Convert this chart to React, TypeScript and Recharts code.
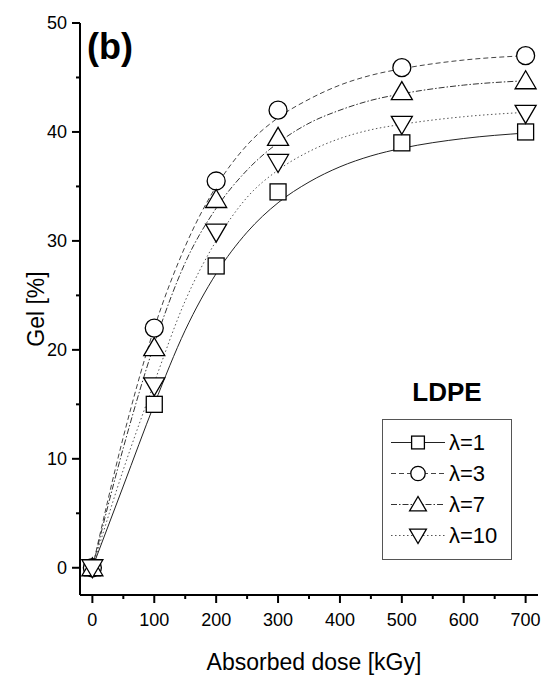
import { ComposedChart, Line, Scatter, XAxis, YAxis, Legend } from 'recharts';

const FONT = '"Liberation Sans", Arial, sans-serif';

// measured points (dose in kGy, gel %)
const doses = [0, 100, 200, 300, 500, 700];
const gelL1 = [0, 15, 27.7, 34.5, 39, 40];
const gelL3 = [0, 22, 35.5, 42, 45.9, 47];
const gelL7 = [0, 20.2, 33.8, 39.5, 43.7, 44.7];
const gelL10 = [0, 16.7, 30.8, 37.2, 40.7, 41.7];

// fitted curves
const fitDoses = [0, 50, 100, 150, 200, 250, 300, 350, 400, 450, 500, 600, 700];
const fitL1 = [0, 7.5, 15, 21.8, 27, 30.8, 33.5, 35.4, 36.8, 37.8, 38.5, 39.4, 39.9];
const fitL3 = [0, 12, 22, 29.5, 35, 38.8, 41.3, 43, 44.3, 45.2, 45.8, 46.6, 47];
const fitL7 = [0, 11, 20.5, 28, 33, 36.5, 39, 40.8, 42, 42.9, 43.5, 44.3, 44.7];
const fitL10 = [0, 9, 17, 24.5, 30, 34, 36.5, 38.2, 39.4, 40.2, 40.7, 41.4, 41.8];

const xTicks = [0, 50, 100, 150, 200, 250, 300, 350, 400, 450, 500, 550, 600, 650, 700];
const yTicks = [0, 5, 10, 15, 20, 25, 30, 35, 40, 45, 50];

const toPoints = (xs: number[], ys: number[]) => xs.map((x, i) => ({ x, y: ys[i] }));

type Kind = 'square' | 'circle' | 'up' | 'down';

const series: { name: string; kind: Kind; marks: number[]; fit: number[]; dash?: string; color: string }[] = [
  { name: 'λ=1', kind: 'square', marks: gelL1, fit: fitL1, color: '#222' },
  { name: 'λ=3', kind: 'circle', marks: gelL3, fit: fitL3, dash: '5 3', color: '#444' },
  { name: 'λ=7', kind: 'up', marks: gelL7, fit: fitL7, dash: '6 2 1.5 2', color: '#333' },
  { name: 'λ=10', kind: 'down', marks: gelL10, fit: fitL10, dash: '1.5 2.5', color: '#555' },
];

const Marker = ({ kind, cx, cy, s = 1 }: { kind: Kind; cx: number; cy: number; s?: number }) => {
  const common = { fill: '#fff', stroke: '#000', strokeWidth: 1.3 };
  if (kind === 'square') {
    const h = 8 * s;
    return <rect x={cx - h} y={cy - h} width={2 * h} height={2 * h} {...common} />;
  }
  if (kind === 'circle') return <circle cx={cx} cy={cy} r={9 * s} {...common} />;
  const w = 10.5 * s;
  if (kind === 'up') {
    return <polygon points={`${cx},${cy - 10 * s} ${cx - w},${cy + 8 * s} ${cx + w},${cy + 8 * s}`} {...common} />;
  }
  return <polygon points={`${cx},${cy + 10 * s} ${cx - w},${cy - 8 * s} ${cx + w},${cy - 8 * s}`} {...common} />;
};

const XTick = ({ x, y, payload }: any) => {
  const y0 = y - 8;
  const major = payload.value % 100 === 0;
  return (
    <g>
      <line x1={x} x2={x} y1={y0} y2={y0 + (major ? 8 : 4)} stroke="#000" strokeWidth={2} />
      {major && (
        <text x={x} y={y0 + 18} dy="0.71em" textAnchor="middle" fontSize={18} fontFamily={FONT} fill="#000">
          {payload.value}
        </text>
      )}
    </g>
  );
};

const YTick = ({ x, y, payload }: any) => {
  const x0 = x + 8;
  const major = payload.value % 10 === 0;
  return (
    <g>
      <line x1={x0} x2={x0 - (major ? 8 : 4)} y1={y} y2={y} stroke="#000" strokeWidth={2} />
      {major && (
        <text x={x0 - 13} y={y} dy="0.355em" textAnchor="end" fontSize={18} fontFamily={FONT} fill="#000">
          {payload.value}
        </text>
      )}
    </g>
  );
};

const renderLegend = () => (
  <div style={{ width: 130, fontFamily: FONT, color: '#000' }}>
    <div style={{ textAlign: 'center', fontWeight: 'bold', fontSize: 26, lineHeight: '30px', marginBottom: 12 }}>LDPE</div>
    <div style={{ border: '1px solid #555', boxSizing: 'border-box', width: 130, padding: '7px 0 8px 0' }}>
      {series.map((s) => (
        <div key={s.name} style={{ display: 'flex', alignItems: 'center', height: 31 }}>
          <svg width={54} height={31} style={{ marginLeft: 8, display: 'block' }}>
            <line x1={0} x2={54} y1={15.5} y2={15.5} stroke={s.color} strokeWidth={1} strokeDasharray={s.dash} />
            <Marker kind={s.kind} cx={27} cy={15.5} s={0.8} />
          </svg>
          <span style={{ fontSize: 22, marginLeft: 4, lineHeight: '31px' }}>{s.name}</span>
        </div>
      ))}
    </div>
  </div>
);

export default function App() {
  return (
    <div style={{ position: 'absolute', left: 0, top: 0, width: 543, height: 678, background: '#fff' }}>
      <ComposedChart width={543} height={678} margin={{ top: 23, right: 5, bottom: 0, left: 20 }}>
        <XAxis
          dataKey="x"
          type="number"
          domain={[-20, 720]}
          ticks={xTicks}
          interval={0}
          height={83}
          tickSize={8}
          tickMargin={0}
          tickLine={{ stroke: 'none' }}
          tick={<XTick />}
          axisLine={{ stroke: '#000', strokeWidth: 2 }}
          allowDataOverflow
          label={(p: any) => (
            <text
              x={p.viewBox.x + p.viewBox.width / 2 + 5}
              y={p.viewBox.y + 75}
              textAnchor="middle"
              fontSize={23}
              fontFamily={FONT}
              fill="#000"
            >
              Absorbed dose [kGy]
            </text>
          )}
        />
        <YAxis
          type="number"
          domain={[-2.5, 50]}
          ticks={yTicks}
          interval={0}
          width={60}
          tickSize={8}
          tickMargin={0}
          tickLine={{ stroke: 'none' }}
          tick={<YTick />}
          axisLine={{ stroke: '#000', strokeWidth: 2 }}
          allowDataOverflow
          label={(p: any) => {
            const cx = p.viewBox.x + 16;
            const cy = p.viewBox.y + p.viewBox.height / 2;
            return (
              <text
                x={cx}
                y={cy}
                transform={`rotate(-90 ${cx} ${cy})`}
                textAnchor="middle"
                dominantBaseline="central"
                fontSize={23}
                fontFamily={FONT}
                fill="#000"
              >
                Gel [%]
              </text>
            );
          }}
        />
        {series.map((s) => (
          <Line
            key={'fit' + s.name}
            data={toPoints(fitDoses, s.fit)}
            dataKey="y"
            type="monotone"
            stroke={s.color}
            strokeWidth={1}
            strokeDasharray={s.dash}
            dot={false}
            activeDot={false}
            legendType="none"
            isAnimationActive={false}
          />
        ))}
        {series.map((s) => (
          <Scatter
            key={'pts' + s.name}
            name={s.name}
            data={toPoints(doses, s.marks)}
            dataKey="y"
            shape={(p: any) => <Marker kind={s.kind} cx={p.cx} cy={p.cy} />}
            isAnimationActive={false}
          />
        ))}
        <text x={87} y={59} fontSize={36} fontWeight="bold" fontFamily={FONT} fill="#000">
          (b)
        </text>
        <Legend
          layout="horizontal"
          align="center"
          verticalAlign="middle"
          content={renderLegend}
          wrapperStyle={{ left: 382, top: 377, width: 130 }}
        />
      </ComposedChart>
    </div>
  );
}
